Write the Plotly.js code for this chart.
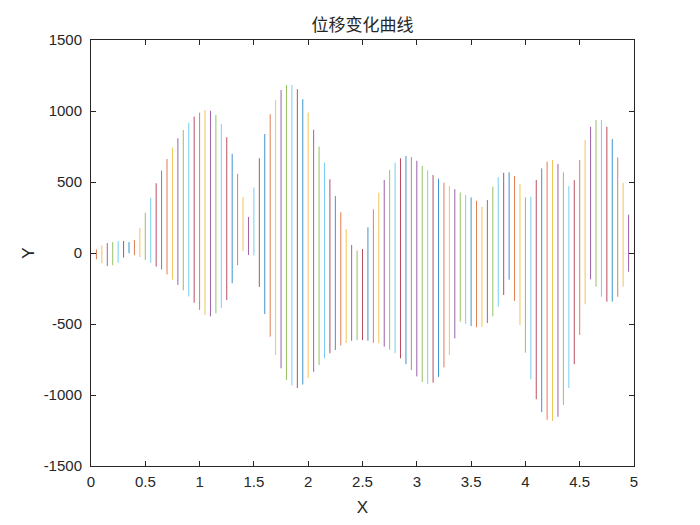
<!DOCTYPE html>
<html>
<head>
<meta charset="utf-8">
<script src="https://cdn.plot.ly/plotly-3.0.1.min.js"></script>
<style>html,body{margin:0;padding:0;background:#fff;}#chart{width:700px;height:525px;}</style>
</head>
<body>
<div id="chart"></div>
<script>
// x position of each vertical segment
const xs = [0.05,0.10,0.15,0.20,0.25,0.30,0.35,0.40,0.45,0.50,
  0.55,0.60,0.65,0.70,0.75,0.80,0.85,0.90,0.95,1.00,
  1.05,1.10,1.15,1.20,1.25,1.30,1.35,1.40,1.45,1.50,
  1.55,1.60,1.65,1.70,1.75,1.80,1.85,1.90,1.95,2.00,
  2.05,2.10,2.15,2.20,2.25,2.30,2.35,2.40,2.45,2.50,
  2.55,2.60,2.65,2.70,2.75,2.80,2.85,2.90,2.95,3.00,
  3.05,3.10,3.15,3.20,3.25,3.30,3.35,3.40,3.45,3.50,
  3.55,3.60,3.65,3.70,3.75,3.80,3.85,3.90,3.95,4.00,
  4.05,4.10,4.15,4.20,4.25,4.30,4.35,4.40,4.45,4.50,
  4.55,4.60,4.65,4.70,4.75,4.80,4.85,4.90,4.95];
// upper end of each segment
const yTop = [26,53,70,77,85,85,77,92,176,284,
  389,491,580,662,742,808,866,918,960,988,
  1007,1002,972,908,815,699,558,394,254,461,
  667,838,977,1077,1148,1183,1183,1153,1083,989,
  868,749,636,519,401,287,168,56,18,28,
  181,308,425,514,585,636,667,683,676,649,
  613,582,549,523,495,472,449,426,408,392,
  368,324,373,467,533,565,568,542,486,392,
  396,514,596,643,655,627,568,472,513,655,
  796,889,937,937,889,803,673,493,270];
// lower end of each segment
const yBot = [-44,-73,-92,-86,-68,-32,-2,-15,-28,-49,
  -68,-96,-116,-151,-188,-225,-263,-306,-350,-401,
  -437,-446,-425,-387,-331,-213,-85,14,-14,-18,
  -239,-430,-589,-718,-812,-894,-933,-951,-926,-882,
  -836,-789,-742,-706,-683,-651,-634,-618,-613,-613,
  -618,-632,-636,-660,-681,-706,-742,-783,-824,-869,
  -908,-921,-913,-873,-806,-718,-601,-484,-498,-514,
  -523,-519,-493,-446,-378,-296,-188,-337,-507,-702,
  -889,-1030,-1121,-1174,-1183,-1153,-1070,-951,-783,-577,
  -361,-185,-237,-308,-343,-343,-308,-237,-132];
// axis tick labels
const yTickVals = [-1500,-1000,-500,0,500,1000,1500];
const yTickText = ['-1500','-1000','-500','0','500','1000','1500'];
const xTickVals = [0,0.5,1,1.5,2,2.5,3,3.5,4,4.5,5];
const xTickText = ['0','0.5','1','1.5','2','2.5','3','3.5','4','4.5','5'];

const palette = ['#0072BD','#D95319','#EDB120','#7E2F8E','#77AC30','#4DBEEE','#A2142F'];

const groups = palette.map(() => ({x: [], y: []}));
for (let i = 0; i < xs.length; i++) {
  const k = i + 1;
  const ci = (k + Math.floor(k / 10)) % 7;
  groups[ci].x.push(xs[i], xs[i], null);
  groups[ci].y.push(yBot[i], yTop[i], null);
}
const traces = groups.map((g, ci) => ({
  type: 'scatter', mode: 'lines', x: g.x, y: g.y,
  line: {color: palette[ci], width: 1}, opacity: 0.75,
  hoverinfo: 'skip', showlegend: false, connectgaps: false
}));

const axisFont = {family: 'Liberation Sans, Arial, sans-serif', size: 15, color: '#262626'};
const labelFont = {family: 'Liberation Sans, Arial, sans-serif', size: 17, color: '#262626'};
const layout = {
  width: 700, height: 525,
  margin: {l: 91, r: 66, t: 40, b: 59},
  paper_bgcolor: '#ffffff', plot_bgcolor: '#ffffff',
  showlegend: false,
  title: {text: '位移变化曲线', x: 0.5, xref: 'paper', xanchor: 'center',
          y: 0.952, yref: 'container', yanchor: 'middle',
          font: {family: 'Noto Sans CJK SC, sans-serif', size: 17, color: '#262626'}},
  xaxis: {range: [0, 5], tickvals: xTickVals, ticktext: xTickText,
          ticks: 'inside', ticklen: 5, tickcolor: '#262626', tickwidth: 1,
          showline: true, linecolor: '#262626', linewidth: 1, mirror: 'ticks',
          showgrid: false, zeroline: false, tickfont: axisFont, ticklabelstandoff: 2,
          title: {text: 'X', font: labelFont, standoff: 12}},
  yaxis: {range: [-1500, 1500], tickvals: yTickVals, ticktext: yTickText,
          ticks: 'inside', ticklen: 5, tickcolor: '#262626', tickwidth: 1,
          showline: true, linecolor: '#262626', linewidth: 1, mirror: 'ticks',
          showgrid: false, zeroline: false, tickfont: axisFont, ticklabelstandoff: 5,
          title: {text: 'Y', font: labelFont, standoff: 4}}
};
Plotly.newPlot('chart', traces, layout, {displayModeBar: false, staticPlot: true});
</script>
</body>
</html>
